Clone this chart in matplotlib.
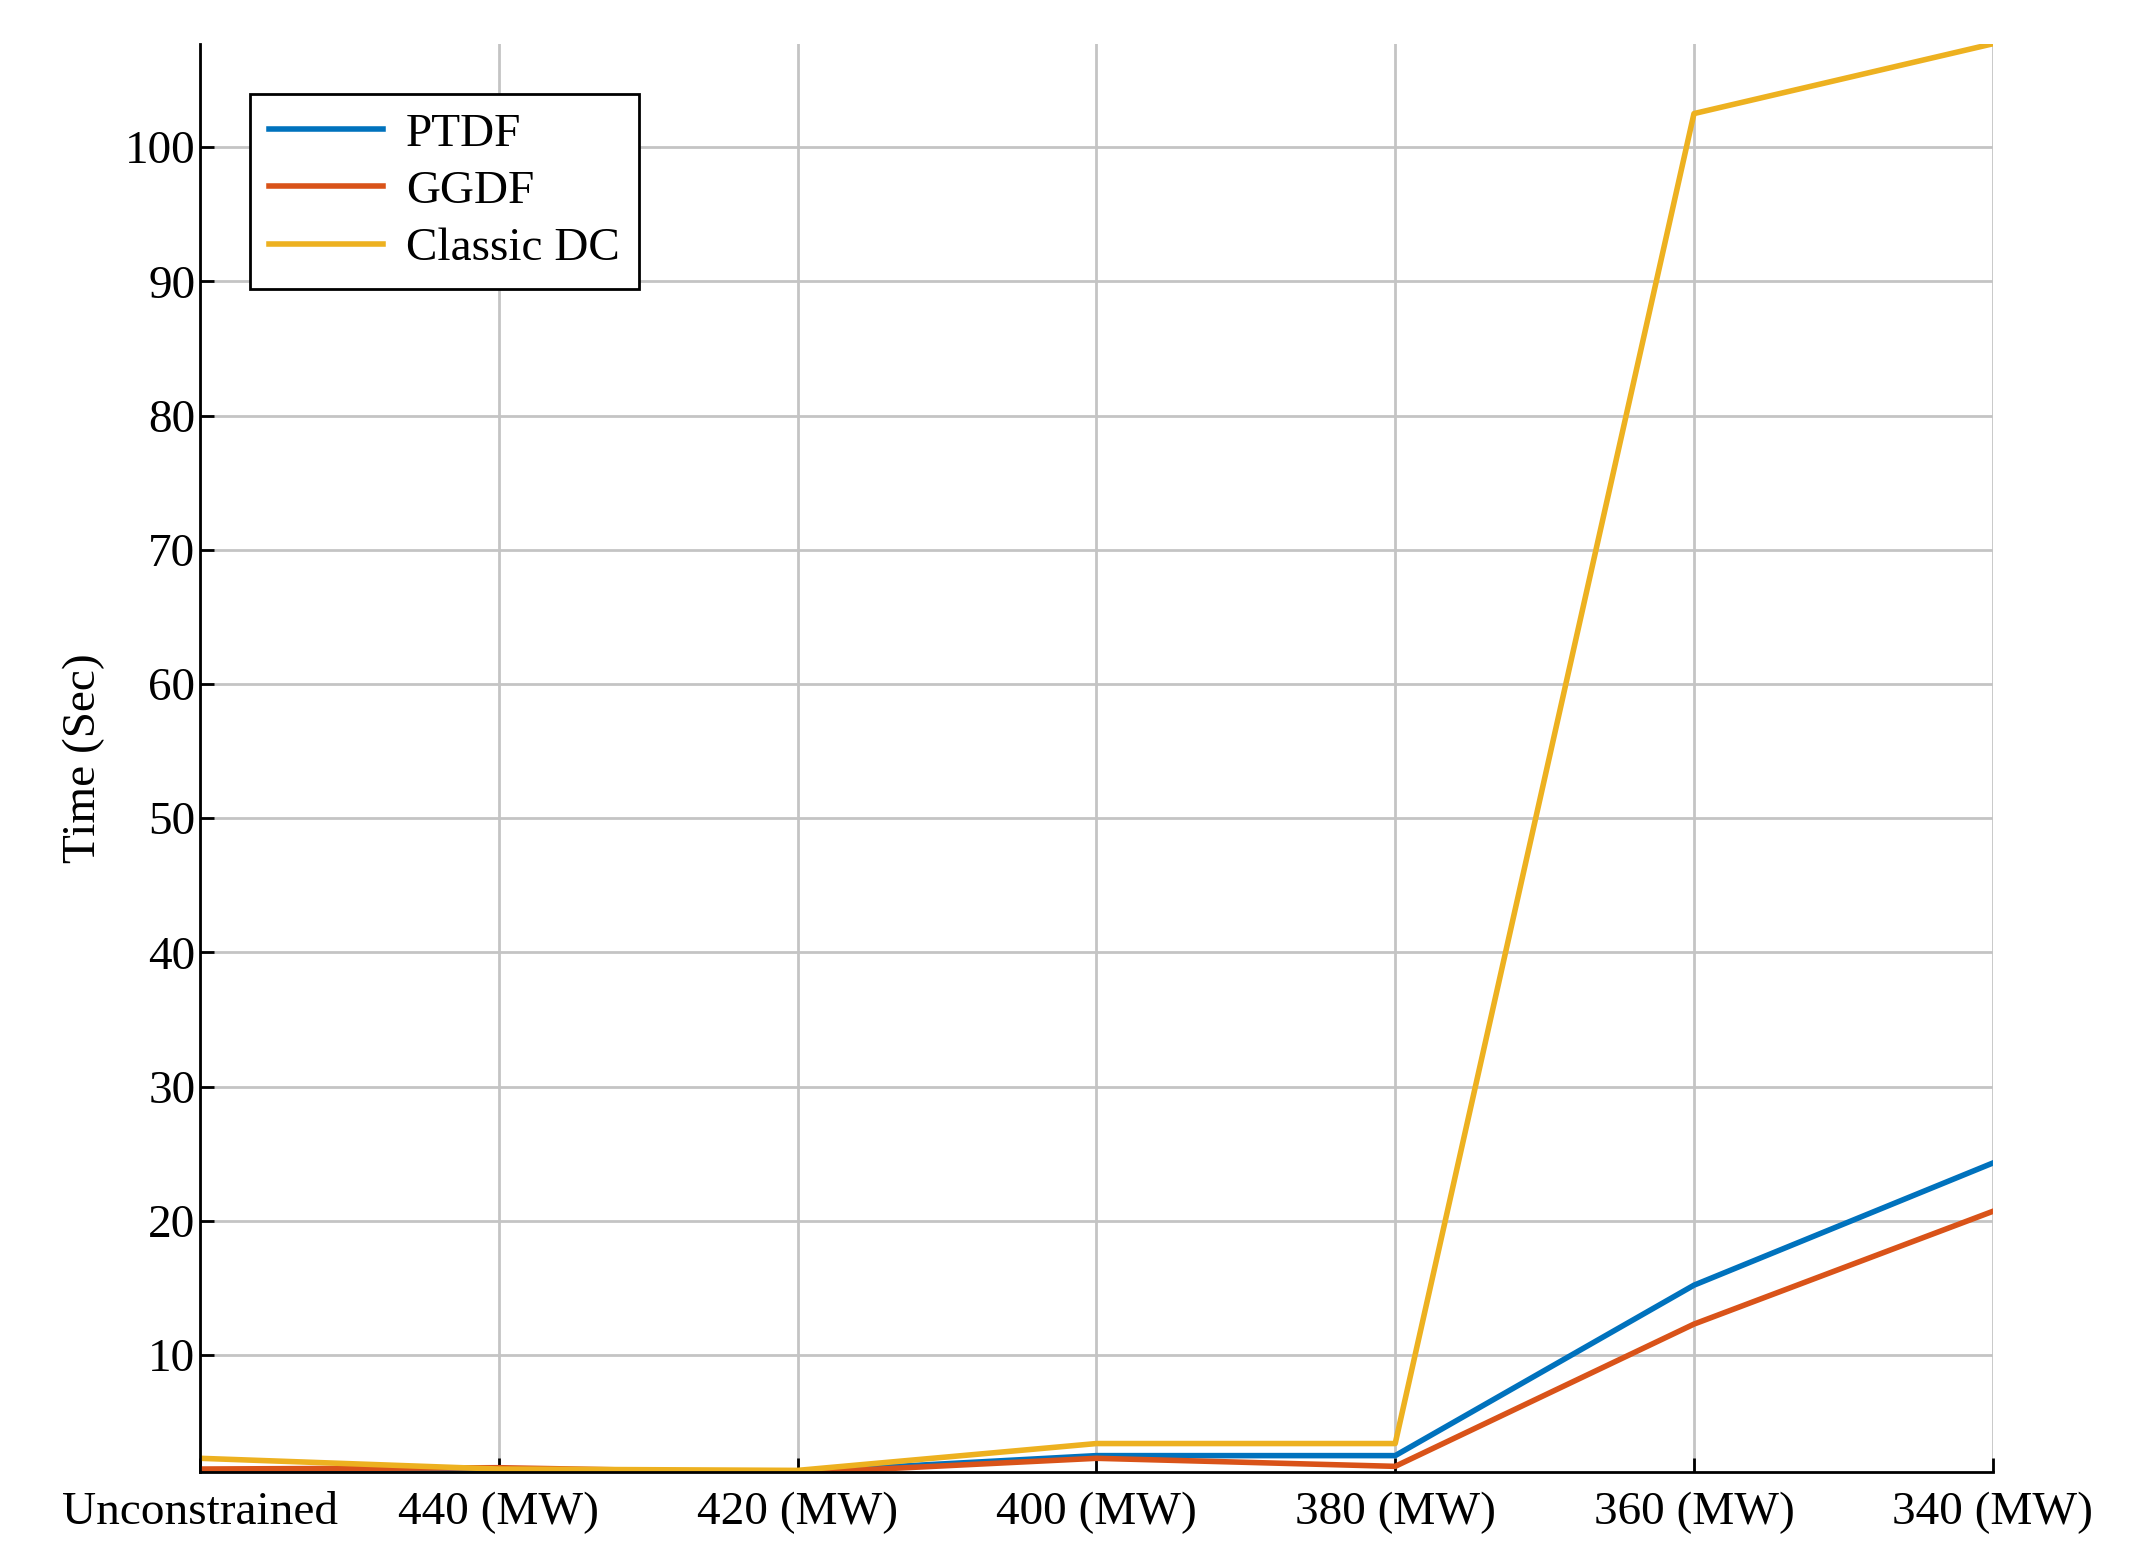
import matplotlib.pyplot as plt

categories = ["Unconstrained", "440 (MW)", "420 (MW)", "400 (MW)", "380 (MW)", "360 (MW)", "340 (MW)"]
ptdf = [1.4, 1.4, 1.3, 2.5, 2.5, 15.2, 24.3]
ggdf = [1.5, 1.6, 1.2, 2.3, 1.7, 12.3, 20.7]
classic_dc = [2.3, 1.5, 1.4, 3.4, 3.4, 102.5, 107.7]

plt.rcParams['font.family'] = ['Liberation Serif', 'DejaVu Serif']

fig = plt.figure(figsize=(21.29, 15.64), dpi=100)
ax = fig.add_axes([0.094, 0.059, 0.842, 0.913])
x = range(len(categories))
ax.plot(x, ptdf, color="#0072BD", lw=4, label="PTDF")
ax.plot(x, ggdf, color="#D95319", lw=4, label="GGDF")
ax.plot(x, classic_dc, color="#EDB120", lw=4, label="Classic DC")

ax.set_xlim(0, 6)
ax.set_ylim(1.3, 107.7)
ax.set_xticks(list(x))
ax.set_xticklabels(categories)
ax.set_yticks(range(10, 101, 10))
ax.grid(True, color="#c4c4c4", lw=2)
ax.spines['top'].set_visible(False)
ax.spines['right'].set_visible(False)
for s in ('left', 'bottom'):
    ax.spines[s].set_linewidth(2)
ax.tick_params(labelsize=34, direction='in', length=10, width=2)
ax.tick_params(axis='x', pad=14)
ax.set_ylabel("Time (Sec)", fontsize=34, labelpad=14)

leg = ax.legend(loc='upper left', bbox_to_anchor=(0.028, 0.965), fontsize=34,
                fancybox=False, edgecolor='k', framealpha=1, handlelength=2.4,
                handletextpad=0.5, borderpad=0.4, labelspacing=0.3,
                borderaxespad=0)
leg.get_frame().set_linewidth(2)

fig.savefig("out.png", dpi=100)
